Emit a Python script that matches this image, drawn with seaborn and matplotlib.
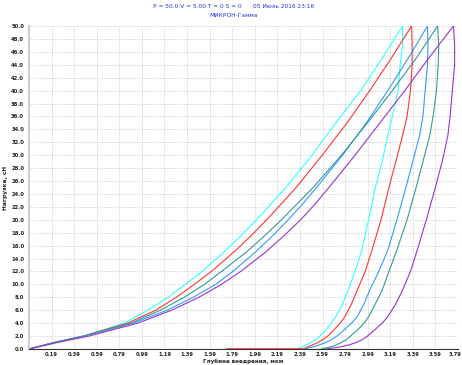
import numpy as np
import pandas as pd
import seaborn as sns
import matplotlib
matplotlib.use("Agg")
import matplotlib.pyplot as plt
from matplotlib.transforms import ScaledTranslation

# load levels, cN, shared by every loading branch
load_up = [0, 1, 2, 4, 6, 8, 10, 12, 15, 17.5, 20, 22.5, 25, 30, 35, 40, 45, 50]
# depth (um) reached at each load level, loading branch
cyan_up = [0, 0.22, 0.48, 0.84, 1.05, 1.23, 1.38, 1.53, 1.72, 1.87, 2.01, 2.14, 2.27, 2.50, 2.71, 2.93, 3.12, 3.30]
red_up = [0, 0.22, 0.48, 0.87, 1.12, 1.30, 1.46, 1.61, 1.81, 1.96, 2.10, 2.23, 2.36, 2.59, 2.81, 3.01, 3.20, 3.38]
blue_up = [0, 0.22, 0.49, 0.92, 1.22, 1.45, 1.65, 1.80, 2.00, 2.15, 2.29, 2.42, 2.54, 2.77, 2.98, 3.17, 3.35, 3.52]
teal_up = [0, 0.22, 0.48, 0.90, 1.16, 1.37, 1.55, 1.70, 1.92, 2.08, 2.23, 2.37, 2.51, 2.76, 2.99, 3.21, 3.42, 3.61]
purple_up = [0, 0.25, 0.53, 0.96, 1.26, 1.50, 1.70, 1.87, 2.09, 2.25, 2.40, 2.53, 2.65, 2.88, 3.10, 3.32, 3.53, 3.75]

# unloading branches: load levels and depths
load_down = [50, 47, 44, 40, 36, 33, 29, 25, 20, 15.3, 12, 9.1, 7, 5, 4, 2.9, 2, 1.4, 1, 0.6, 0.3, 0]
cyan_down = [3.30, 3.30, 3.28, 3.26, 3.21, 3.17, 3.12, 3.06, 3.00, 2.94, 2.88, 2.82, 2.77, 2.71, 2.67,
             2.62, 2.57, 2.53, 2.49, 2.45, 2.41, 2.36]
red_down = [3.38, 3.385, 3.385, 3.37, 3.34, 3.30, 3.24, 3.18, 3.11, 3.03, 2.97, 2.90, 2.85, 2.79, 2.75,
            2.69, 2.64, 2.59, 2.55, 2.50, 2.46, 2.42]
blue_down = [3.52, 3.525, 3.52, 3.50, 3.48, 3.45, 3.39, 3.33, 3.25, 3.17, 3.09, 3.01, 2.96, 2.90, 2.85,
             2.78, 2.72, 2.67, 2.62, 2.56, 2.50, 2.44]
teal_down = [3.61, 3.62, 3.615, 3.60, 3.57, 3.54, 3.48, 3.42, 3.34, 3.25, 3.18, 3.12, 3.06, 3.00, 2.96,
             2.90, 2.84, 2.80, 2.76, 2.71, 2.66, 2.58]
purple_down = [3.75, 3.76, 3.76, 3.74, 3.72, 3.70, 3.65, 3.59, 3.51, 3.43, 3.37, 3.30, 3.24, 3.17, 3.12,
               3.05, 2.99, 2.94, 2.89, 2.82, 2.74, 2.62]

# red trace runs back along zero load after unloading
red_tail_x = [2.42, 1.75]
red_tail_y = [0, 0]

colors = {"cyan": "#33FFFF", "red": "#FF3333", "blue": "#3399FF",
          "teal": "#339999", "purple": "#9933CC"}

x_ticklabels = ["0.19", "0.39", "0.59", "0.79", "0.99", "1.19", "1.39", "1.59", "1.79", "1.99",
                "2.19", "2.39", "2.59", "2.79", "2.99", "3.19", "3.39", "3.59", "3.79"]

sns.set_style("white")
plt.rcParams["font.family"] = ["DejaVu Sans"]

fig = plt.figure(figsize=(4.62, 3.65), dpi=100)
ax = fig.add_axes([29 / 462, 16 / 365, 429 / 462, 323 / 365])

curves = [("cyan", cyan_up, cyan_down), ("red", red_up, red_down),
          ("blue", blue_up, blue_down), ("teal", teal_up, teal_down),
          ("purple", purple_up, purple_down)]
for name, up, down in curves:
    df = pd.DataFrame({"h": up + down, "P": load_up + load_down})
    sns.lineplot(data=df, x="h", y="P", sort=False, estimator=None,
                 color=colors[name], lw=0.8, ax=ax)
sns.lineplot(x=red_tail_x, y=red_tail_y, sort=False, estimator=None,
             color=colors["red"], lw=1.2, ax=ax)

ax.set_xlim(0, 3.79)
ax.set_ylim(0, 50)
xt = np.linspace(3.79 / 19, 3.79, 19)
ax.set_xticks(xt)
ax.set_xticklabels(x_ticklabels)
ax.set_xticks(np.linspace(0, 3.79, 96), minor=True)
ax.set_yticks(np.arange(0, 50.1, 2))
ax.set_yticklabels([f"{v:.1f}" for v in np.arange(0, 50.1, 2)])

ax.grid(True, which="major", ls=(0, (1, 1.5)), color="#b5b5b5", lw=0.5)
ax.tick_params(axis="both", which="major", labelsize=3.8, color="#2244dd",
               length=2.5, width=0.8, pad=1)
ax.tick_params(axis="x", which="major", length=1.5, pad=0.8)
ax.tick_params(axis="x", which="minor", color="#33aa33", length=1.2, width=0.5)
for lab in ax.get_xticklabels() + ax.get_yticklabels():
    lab.set_fontweight("bold")
    lab.set_color("#222222")
# keep the last x label inside the canvas
last = ax.get_xticklabels()[-1]
last.set_transform(last.get_transform() + ScaledTranslation(-0.025, 0, fig.dpi_scale_trans))

for s in ["top", "right"]:
    ax.spines[s].set_visible(False)
ax.spines["left"].set_color("#cccccc")
ax.spines["left"].set_linewidth(1.5)
ax.spines["bottom"].set_color("#333333")
ax.spines["bottom"].set_linewidth(0.8)

ax.set_xlabel("Глубина внедрения, мкм", fontsize=4, fontweight="bold", labelpad=0.8)
ax.set_ylabel("Нагрузка, сН", fontsize=4.2, fontweight="bold", labelpad=2)

fig.text(0.505, 0.982, "P = 50.0 V = 5.00 T = 0 S = 0      05 Июль 2016 23:16",
         ha="center", va="center", fontsize=4.2, color="#2233ee")
fig.text(0.505, 0.958, "МИКРОН-Гамма", ha="center", va="center",
         fontsize=4.2, color="#2233ee")

fig.savefig("out.png", dpi=100, facecolor="white")
